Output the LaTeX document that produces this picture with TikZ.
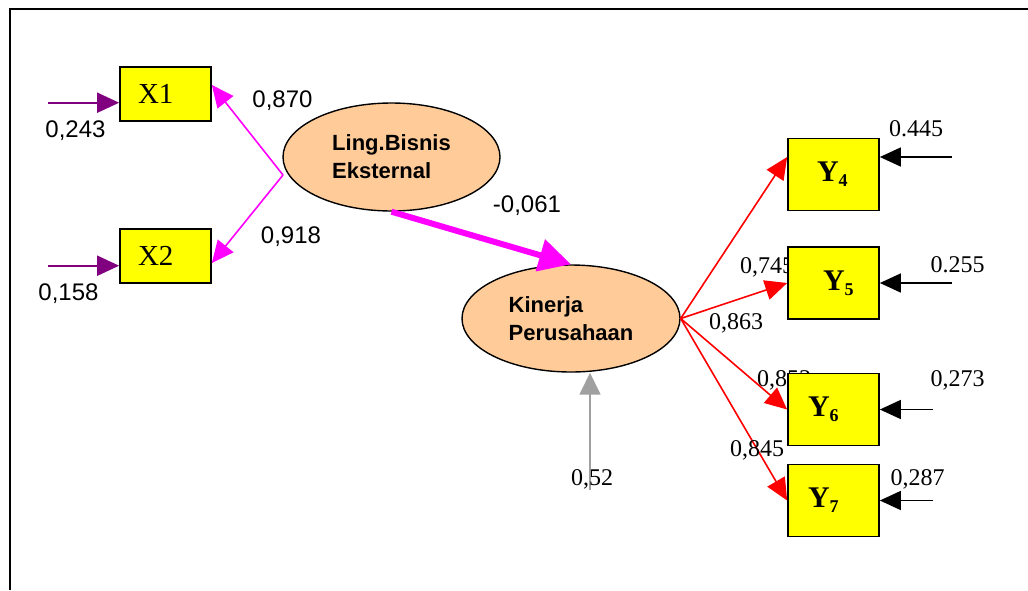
\documentclass[tikz,border=0pt]{standalone}
\usepackage{fontspec}
\setmainfont{Liberation Serif}
\setsansfont{Liberation Sans}
\usetikzlibrary{arrows.meta,shapes.geometric}
\definecolor{peach}{RGB}{255,204,153}
\definecolor{myyellow}{RGB}{255,255,0}
\definecolor{mymagenta}{RGB}{255,0,255}
\definecolor{mypurple}{RGB}{128,0,128}
\definecolor{mygray}{RGB}{160,160,160}
\definecolor{myred}{RGB}{255,0,0}
\newcommand\ysub[1]{\raisebox{-5pt}{\fontsize{18}{18}\selectfont #1}}
\begin{document}
\begin{tikzpicture}[x=1pt,y=-1pt,
  xbox/.style={draw=black, line width=1.7pt, fill=myyellow, minimum height=54pt,
    text width=91pt, inner xsep=0pt, inner ysep=0pt, align=left,
    font=\fontsize{29}{31}\selectfont},
  ybox/.style={draw=black, line width=1.7pt, fill=myyellow, minimum height=72pt,
    text width=91pt, inner xsep=0pt, inner ysep=0pt, align=left,
    font=\fontsize{30}{32}\selectfont\bfseries},
  latent/.style={ellipse, draw=black, line width=1.4pt, fill=peach, inner sep=0pt,
    align=left, font=\sffamily\bfseries\fontsize{22}{28}\selectfont},
  sanslab/.style={anchor=base, inner sep=0pt, font=\sffamily\fontsize{24}{26}\selectfont},
  seriflab/.style={anchor=base, inner sep=0pt, font=\fontsize{24}{26}\selectfont},
  purarr/.style={draw=mypurple, fill=mypurple, line width=1.8pt, -{Triangle[length=22pt,width=20pt]}},
  magarr/.style={draw=mymagenta, fill=mymagenta, line width=1.6pt, -{Triangle[length=22pt,width=20pt]}},
  thickarr/.style={draw=mymagenta, fill=mymagenta, line width=6pt, -{Triangle[length=32pt,width=32pt]}},
  redarr/.style={draw=myred, fill=myred, line width=1.6pt, -{Triangle[length=22pt,width=20pt]}},
  blkarr/.style={draw=black, fill=black, line width=1.6pt, -{Triangle[length=21pt,width=19pt]}},
  grayarr/.style={draw=mygray, fill=mygray, line width=1.6pt, -{Triangle[length=22pt,width=21pt]}}
]
\useasboundingbox (0,0) rectangle (1028,590);
% frame
\draw[line width=2pt] (10,590) -- (10,9) -- (1028,9);

% labels that are partly hidden by boxes
\node[seriflab] (l745) at (767,273) {0,745};
\node[seriflab] (l853) at (784,386) {0,853};

% indicator boxes
\node[xbox] (x1) at (165.5,93.7) {\hspace*{18pt}X1};
\node[xbox] (x2) at (165.5,256) {\hspace*{18pt}X2};
\node[ybox] (y4) at (833.5,174.5) {\hspace*{29pt}Y\ysub{4}};
\node[ybox] (y5) at (833.5,283) {\hspace*{35pt}Y\ysub{5}};
\node[ybox] (y6) at (833.5,409.5) {\hspace*{20pt}Y\ysub{6}};
\node[ybox] (y7) at (833.5,500.5) {\hspace*{20pt}Y\ysub{7}};

% latent variables
\node[latent, minimum width=217pt, minimum height=108pt] (ling) at (391.5,157) {Ling.Bisnis\\Eksternal};
\node[latent, minimum width=218pt, minimum height=107pt] (kin) at (571,318.5) {Kinerja\\Perusahaan};

% error terms
\coordinate (p1) at (48,102.7);
\coordinate (p2) at (48,265.7);
\draw[purarr] (p1) -- ([yshift=-9pt]x1.west);
\draw[purarr] (p2) -- ([yshift=-9.7pt]x2.west);

% loadings of Ling.Bisnis
\coordinate (v) at (283,175);
\draw[magarr] (v) -- ([yshift=8.7pt]x1.east);
\draw[magarr] (v) -- ([yshift=-7pt]x2.east);

% structural path
\draw[thickarr] (ling.south) -- (kin.north);

% disturbance
\coordinate (d) at (590,490);
\draw[grayarr] (d) -- (d |- kin.south);

% loadings of Kinerja
\draw[redarr] (kin.east) -- ([yshift=17.5pt]y4.west);
\draw[redarr] (kin.east) -- (y5.west);
\draw[redarr] (kin.east) -- (y6.west);
\draw[redarr] (kin.east) -- (y7.west);

% errors of Y
\coordinate (e4) at (952,157);
\coordinate (e5) at (952,283);
\coordinate (e6) at (933,409.5);
\coordinate (e7) at (933,500.5);
\draw[blkarr] (e4) -- ([yshift=17.5pt]y4.east);
\draw[blkarr] (e5) -- (y5.east);
\draw[blkarr] (e6) -- (y6.east);
\draw[blkarr] (e7) -- (y7.east);

% labels
\node[sanslab] (l243) at (75.5,137) {0,243};
\node[sanslab] (l158) at (68.5,300) {0,158};
\node[sanslab] (l870) at (282.5,107) {0,870};
\node[sanslab] (l918) at (291,243) {0,918};
\node[sanslab] (l061) at (527,212) {-0,061};
\node[seriflab] (l445) at (916,136) {0.445};
\node[seriflab] (l255) at (957.5,272) {0.255};
\node[seriflab] (l863) at (736,329) {0,863};
\node[seriflab] (l273) at (957.5,386) {0,273};
\node[seriflab] (l845) at (757,456) {0,845};
\node[seriflab] (l287) at (917.5,485) {0,287};
\node[seriflab] (l52) at (592,485) {0,52};
\end{tikzpicture}
\end{document}
